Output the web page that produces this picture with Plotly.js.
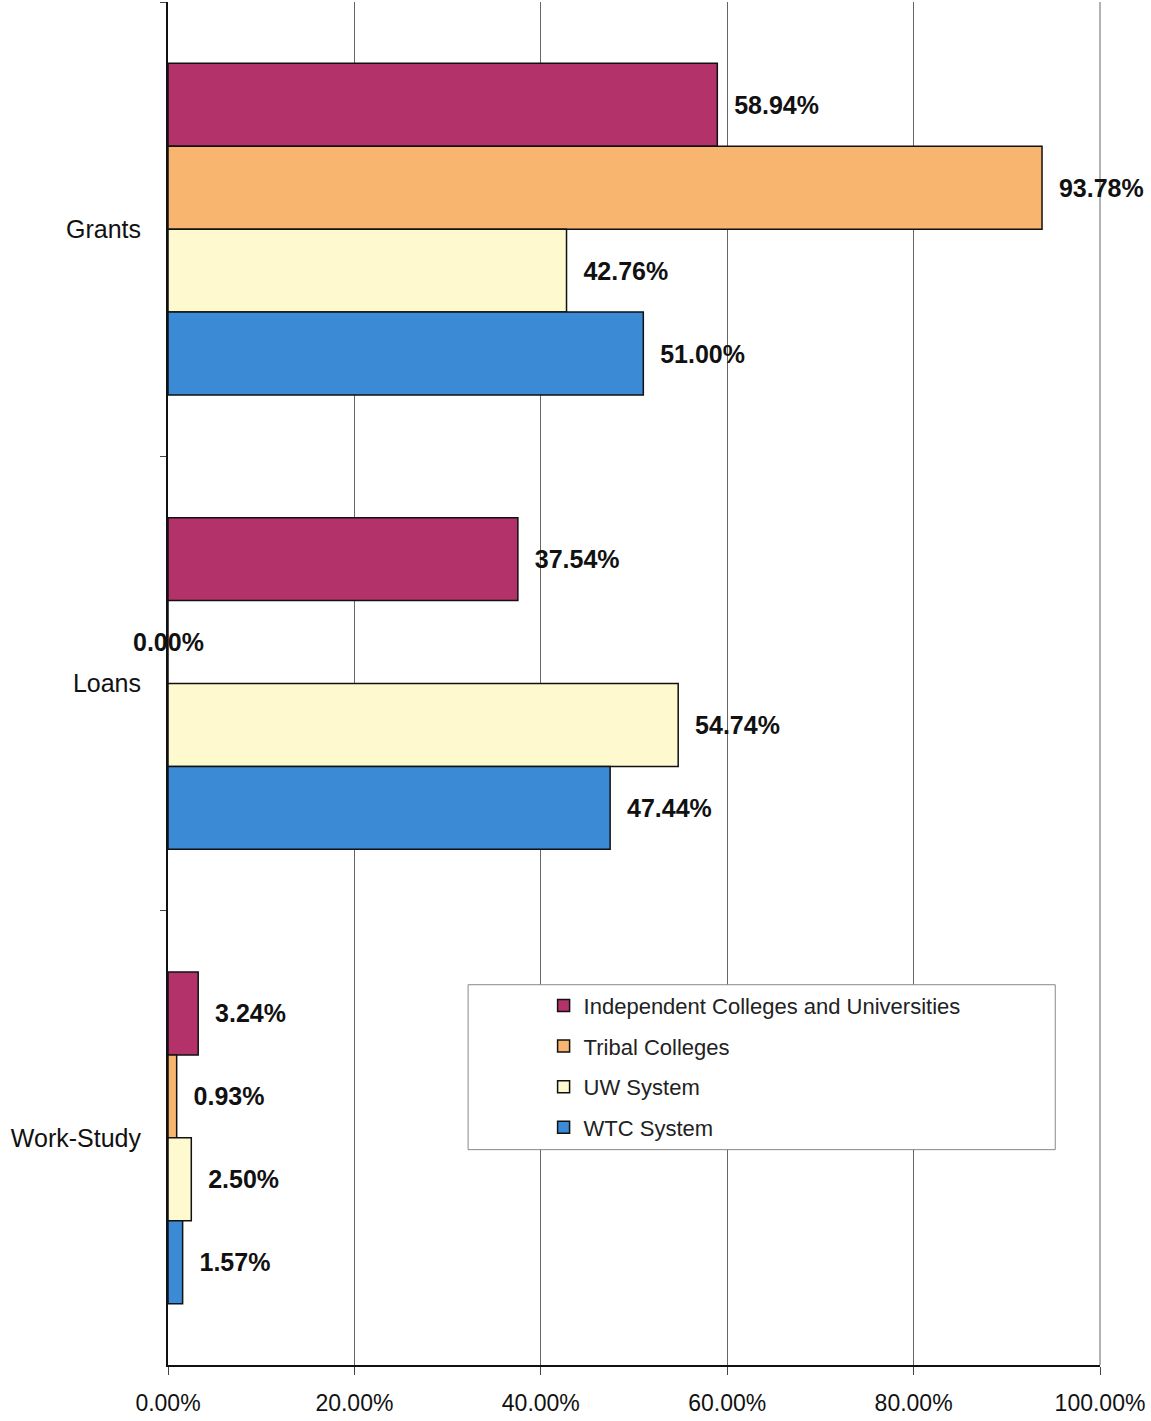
<!DOCTYPE html>
<html><head><meta charset="utf-8">
<script src="https://cdn.plot.ly/plotly-3.0.1.min.js"></script>
<style>html,body{margin:0;padding:0;background:#fff}</style>
</head><body>
<div id="chart" style="width:1151px;height:1421px"></div>
<script>
const categories = ["Grants", "Loans", "Work-Study"];
const seriesNames = ["Independent Colleges and Universities", "Tribal Colleges", "UW System", "WTC System"];
const independent = [0.5894, 0.3754, 0.0324];
const tribal = [0.9378, 0.0000, 0.0093];
const uw = [0.4276, 0.5474, 0.0250];
const wtc = [0.5100, 0.4744, 0.0157];
const tickVals = [0, 0.2, 0.4, 0.6, 0.8, 1.0];
const tickText = ["0.00%", "20.00%", "40.00%", "60.00%", "80.00%", "100.00%"];
const colors = ["#B3326A", "#F8B570", "#FFF9CF", "#3A8AD6"];

const FONT = "Liberation Sans, Arial, sans-serif";
const LABEL_FONT = {family: FONT, size: 25, color: "#111", weight: "bold"};
const seriesData = [independent, tribal, uw, wtc];
const fmt = v => (v * 100).toFixed(2) + "%";

const traces = seriesData.map((vals, i) => ({
  type: "bar",
  orientation: "h",
  name: seriesNames[i],
  legendgroup: "g" + i,
  y: categories,
  x: vals,
  marker: {color: colors[i], line: {color: "#111", width: 1.5}},
  text: vals.map(v => v === 0 ? "" : "\u00a0\u00a0" + fmt(v)),
  texttemplate: "%{text}",
  textposition: "outside",
  textfont: LABEL_FONT,
  constraintext: "none",
  cliponaxis: false,
  hoverinfo: "skip"
}));

// Zero-valued bars: label centred on the axis, as in the original
const nSeries = seriesData.length;
const slot = 83; // px thickness of one bar slot
const annotations = [];
seriesData.forEach((vals, i) => {
  vals.forEach((v, j) => {
    if (v === 0) {
      annotations.push({
        x: v, y: categories[j], xref: "x", yref: "y",
        text: fmt(v), showarrow: false, font: LABEL_FONT,
        xanchor: "center", yanchor: "middle",
        yshift: ((nSeries - 1) / 2 - i) * slot
      });
    }
  });
});

const layout = {
  width: 1151, height: 1421,
  margin: {l: 168, r: 51, t: 2, b: 56},
  paper_bgcolor: "#fff", plot_bgcolor: "#fff",
  barmode: "group",
  bargap: 0.27,
  bargroupgap: 0,
  font: {family: FONT, color: "#111"},
  xaxis: {
    range: [0, 1],
    tickvals: tickVals, ticktext: tickText,
    tickfont: {family: FONT, size: 23, color: "#111"},
    showgrid: true, gridcolor: "#666", gridwidth: 1,
    showline: true, linecolor: "#111", linewidth: 2,
    ticks: "outside", ticklen: 8, tickcolor: "#444",
    ticklabelstandoff: 8,
    zeroline: false, fixedrange: true
  },
  yaxis: {
    type: "category",
    autorange: "reversed",
    tickson: "boundaries",
    ticks: "outside", ticklen: 6, tickcolor: "#444",
    tickfont: {family: FONT, size: 25, color: "#111"},
    showline: true, linecolor: "#111", linewidth: 2,
    showgrid: false, zeroline: false,
    ticklabelstandoff: 20,
    fixedrange: true
  },
  annotations: annotations,
  shapes: [
    {type: "line", xref: "paper", yref: "paper", x0: 1, x1: 1, y0: 0, y1: 1,
     line: {color: "#666", width: 1}, layer: "below"},
    {type: "rect", xref: "paper", yref: "paper", x0: 0.322, x1: 0.952, y0: 0.158, y1: 0.279,
     fillcolor: "#fff", line: {color: "#888", width: 1}, layer: "above"}
  ],
  showlegend: true,
  legend: {
    x: 0.403, y: 0.279, xanchor: "left", yanchor: "top",
    bgcolor: "rgba(0,0,0,0)", borderwidth: 0,
    font: {family: FONT, size: 22, color: "#222"},
    traceorder: "grouped", tracegroupgap: 9,
    itemwidth: 30
  }
};

Plotly.newPlot("chart", traces, layout, {displayModeBar: false, staticPlot: true});
</script>
</body></html>
